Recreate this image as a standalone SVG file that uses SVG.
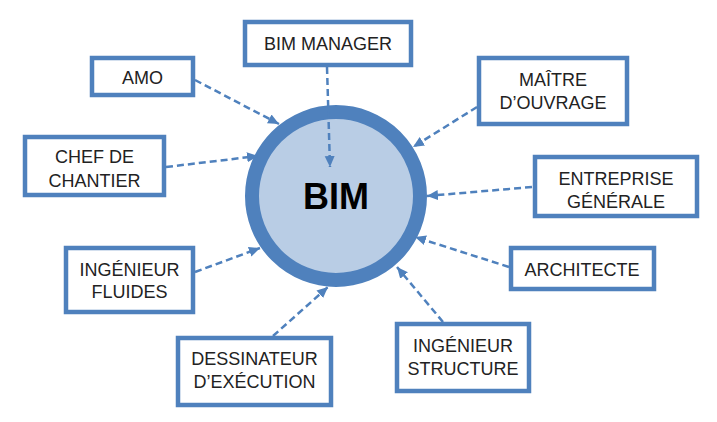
<svg xmlns="http://www.w3.org/2000/svg" width="717" height="422" viewBox="0 0 717 422">
<defs>
<style>
.box{fill:#fff;stroke:#4f81bd;stroke-width:4.5}
.t{font-family:"Liberation Sans",Arial,sans-serif;font-size:18px;fill:#222;text-anchor:middle}
.c{stroke:#4f81bd;stroke-width:2.5;stroke-dasharray:7 4;fill:none}
</style>
<marker id="ah" markerUnits="userSpaceOnUse" markerWidth="12" markerHeight="12" viewBox="0 0 12 12" refX="11" refY="6" orient="auto">
<path d="M0,1 L11,6 L0,11 Z" fill="#4f81bd"/>
</marker>
</defs>
<rect width="717" height="422" fill="#fff"/>
<g id="bim">
<circle cx="336" cy="196" r="84" fill="#b9cde5" stroke="#4f81bd" stroke-width="14"/>
<text x="336" y="209" font-family="'Liberation Sans',Arial,sans-serif" font-size="36" font-weight="bold" text-anchor="middle" fill="#000">BIM</text>
</g>
<g id="connectors">
<line class="c" x1="195" y1="80" x2="279" y2="124" marker-end="url(#ah)"/>
<line class="c" x1="166" y1="167" x2="258" y2="156" marker-end="url(#ah)"/>
<line class="c" x1="327" y1="67" x2="330" y2="167" marker-end="url(#ah)"/>
<line class="c" x1="477" y1="107" x2="413" y2="147" marker-end="url(#ah)"/>
<line class="c" x1="532" y1="187" x2="427" y2="196" marker-end="url(#ah)"/>
<line class="c" x1="509" y1="267" x2="415" y2="237" marker-end="url(#ah)"/>
<line class="c" x1="443" y1="322" x2="397" y2="267" marker-end="url(#ah)"/>
<line class="c" x1="195" y1="272" x2="260" y2="248" marker-end="url(#ah)"/>
<line class="c" x1="273" y1="336" x2="328" y2="287" marker-end="url(#ah)"/>
</g>
<g id="bim-manager">
<rect class="box" x="245" y="22" width="166" height="43"/>
<text class="t" x="328" y="50">BIM MANAGER</text>
</g>
<g id="amo">
<rect class="box" x="92" y="58" width="101" height="37"/>
<text class="t" x="142.5" y="84">AMO</text>
</g>
<g id="chef">
<rect class="box" x="25" y="137" width="139" height="58"/>
<text class="t" x="94.5" y="163">CHEF DE</text>
<text class="t" x="94.5" y="187">CHANTIER</text>
</g>
<g id="maitre">
<rect class="box" x="479" y="58" width="148" height="66"/>
<text class="t" x="553" y="86">MAÎTRE</text>
<text class="t" x="553" y="109">D’OUVRAGE</text>
</g>
<g id="entreprise">
<rect class="box" x="535" y="157" width="162" height="59"/>
<text class="t" x="616" y="185">ENTREPRISE</text>
<text class="t" x="616" y="208">GÉNÉRALE</text>
</g>
<g id="architecte">
<rect class="box" x="511" y="248" width="143" height="41"/>
<text class="t" x="582" y="276">ARCHITECTE</text>
</g>
<g id="ingenieur-structure">
<rect class="box" x="397" y="324" width="132" height="67"/>
<text class="t" x="463" y="352">INGÉNIEUR</text>
<text class="t" x="463" y="375">STRUCTURE</text>
</g>
<g id="ingenieur-fluides">
<rect class="box" x="66" y="248" width="127" height="64"/>
<text class="t" x="129.5" y="276">INGÉNIEUR</text>
<text class="t" x="129.5" y="298">FLUIDES</text>
</g>
<g id="dessinateur">
<rect class="box" x="178" y="338" width="153" height="67"/>
<text class="t" x="254.5" y="365">DESSINATEUR</text>
<text class="t" x="254.5" y="388">D’EXÉCUTION</text>
</g>
</svg>
